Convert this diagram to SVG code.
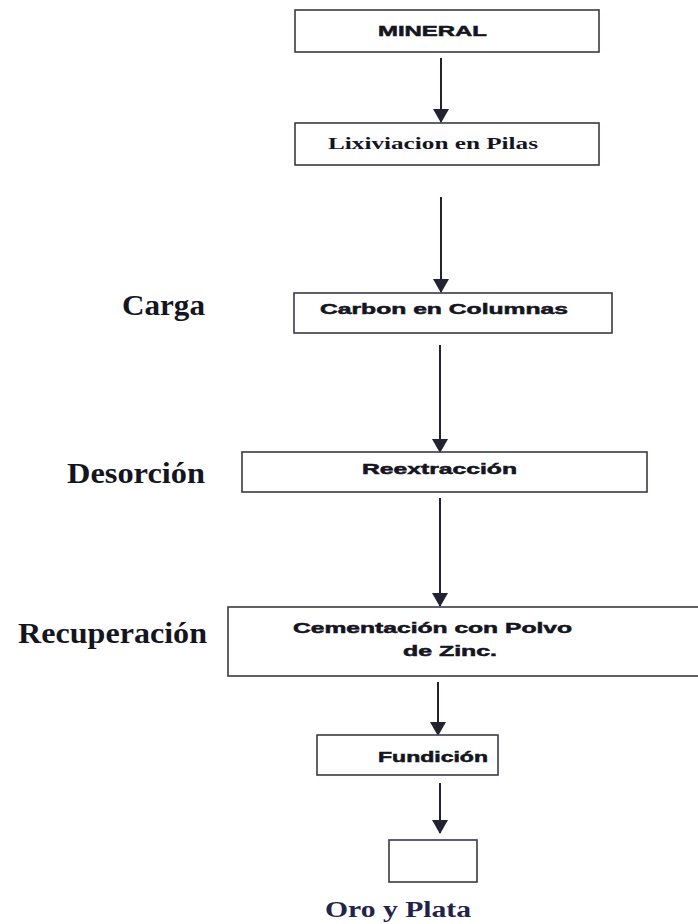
<svg xmlns="http://www.w3.org/2000/svg" width="698" height="924" viewBox="0 0 698 924">
<defs>
<style>
.box{fill:#ffffff;stroke:#3a3a48;stroke-width:1.6}
.ntext{font-family:"Liberation Sans",Arial,sans-serif;font-weight:bold;font-size:14.5px;fill:#15151f;stroke:#15151f;stroke-width:0.5}
.stext{font-family:"Liberation Serif","Times New Roman",serif;font-weight:bold;font-size:17px;fill:#15151f}
.side{font-family:"Liberation Serif","Times New Roman",serif;font-weight:bold;font-size:29px;fill:#15151f}
.out{font-family:"Liberation Serif","Times New Roman",serif;font-weight:bold;font-size:24px;fill:#23234a}
.conn{stroke:#222230;stroke-width:2;fill:none}
</style>
<marker id="ah" markerWidth="7" markerHeight="8" refX="6.5" refY="4" orient="auto" markerUnits="strokeWidth">
<path d="M0,0 L7,4 L0,8 z" fill="#222230"/>
</marker>
</defs>
<rect width="698" height="924" fill="#ffffff"/>

<g id="connectors">
<line class="conn" x1="441" y1="58" x2="441" y2="122" marker-end="url(#ah)"/>
<line class="conn" x1="441" y1="197" x2="441" y2="292" marker-end="url(#ah)"/>
<line class="conn" x1="440" y1="345" x2="440" y2="452" marker-end="url(#ah)"/>
<line class="conn" x1="440" y1="498" x2="440" y2="606" marker-end="url(#ah)"/>
<line class="conn" x1="438" y1="682" x2="438" y2="735" marker-end="url(#ah)"/>
<line class="conn" x1="440" y1="783" x2="440" y2="833" marker-end="url(#ah)"/>
</g>

<g id="mineral">
<rect class="box" x="295" y="10" width="304" height="42"/>
<text class="ntext" x="378" y="36" textLength="109" lengthAdjust="spacingAndGlyphs">MINERAL</text>
</g>

<g id="lixiviacion">
<rect class="box" x="295" y="123" width="304" height="42"/>
<text class="stext" x="328" y="149" textLength="210" lengthAdjust="spacingAndGlyphs">Lixiviacion en Pilas</text>
</g>

<g id="carga">
<text class="side" x="122" y="315" textLength="83" lengthAdjust="spacingAndGlyphs">Carga</text>
</g>
<g id="carbon">
<rect class="box" x="294" y="293" width="318" height="40"/>
<text class="ntext" x="320" y="314" textLength="248" lengthAdjust="spacingAndGlyphs">Carbon en Columnas</text>
</g>

<g id="desorcion">
<text class="side" x="67" y="483" textLength="138" lengthAdjust="spacingAndGlyphs">Desorción</text>
</g>
<g id="reextraccion">
<rect class="box" x="242" y="452" width="405" height="40"/>
<text class="ntext" x="362" y="474" textLength="155" lengthAdjust="spacingAndGlyphs">Reextracción</text>
</g>

<g id="recuperacion">
<text class="side" x="18" y="643" textLength="189" lengthAdjust="spacingAndGlyphs">Recuperación</text>
</g>
<g id="cementacion">
<rect class="box" x="228" y="607" width="472" height="69"/>
<text class="ntext" x="293" y="633" textLength="279" lengthAdjust="spacingAndGlyphs">Cementación con Polvo</text>
<text class="ntext" x="403" y="656" textLength="94" lengthAdjust="spacingAndGlyphs">de Zinc.</text>
</g>

<g id="fundicion">
<rect class="box" x="317" y="735" width="181" height="40"/>
<text class="ntext" x="378" y="762" textLength="110" lengthAdjust="spacingAndGlyphs">Fundición</text>
</g>

<g id="oroplata">
<rect class="box" x="389" y="840" width="88" height="42"/>
<text class="out" x="325" y="917" textLength="146" lengthAdjust="spacingAndGlyphs">Oro y Plata</text>
</g>
</svg>
